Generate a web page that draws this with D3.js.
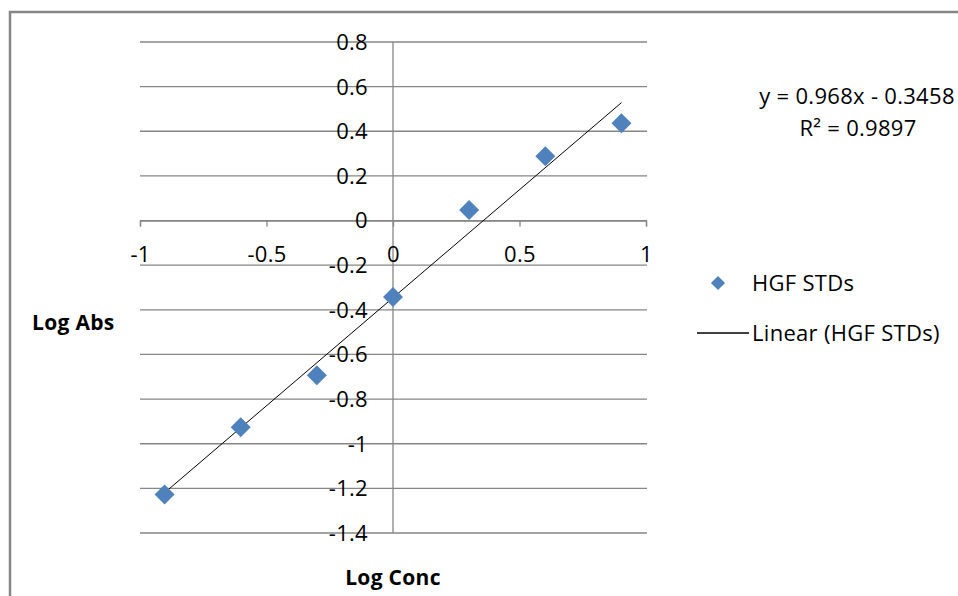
<!DOCTYPE html>
<html>
  <head>
    <script type="text/javascript" src="https://cdn.jsdelivr.net/npm/d3@7"></script>
    <style>
      body { margin: 0; background: #fff; }
      text { font-family: "Open Sans", Lato, sans-serif; fill: #000; letter-spacing: 0.3px; }
    </style>
  </head>
  <body>
    <script type="text/javascript">
      // data
      const logConc = [-0.903, -0.602, -0.301, 0, 0.301, 0.602, 0.903];
      const logAbs = [-1.227, -0.926, -0.693, -0.343, 0.047, 0.288, 0.436];
      const xTicks = [-1, -0.5, 0, 0.5, 1];
      const yTicks = [0.8, 0.6, 0.4, 0.2, 0, -0.2, -0.4, -0.6, -0.8, -1, -1.2, -1.4];
      const slope = 0.968;
      const intercept = -0.3458;
      const eqText = "y = 0.968x - 0.3458";
      const r2Text = "R² = 0.9897";
      const seriesName = "HGF STDs";

      const W = 958, H = 596;
      const blue = "#4f81bd";
      const grey = "#868686";
      const fs = 22;

      const svg = d3.select("body").append("svg")
        .attr("width", W)
        .attr("height", H);

      // outer chart border
      svg.append("rect")
        .attr("x", 10).attr("y", 12)
        .attr("width", 1000).attr("height", 700)
        .attr("fill", "none")
        .attr("stroke", grey)
        .attr("stroke-width", 2.5);

      const xScale = d3.scaleLinear().domain([-1, 1]).range([140, 646]);
      const yScale = d3.scaleLinear().domain([-1.4, 0.8]).range([533, 42]);

      // horizontal gridlines
      svg.append("g").selectAll("line")
        .data(yTicks)
        .enter()
        .append("line")
        .attr("x1", xScale(-1))
        .attr("x2", xScale(1) + 1)
        .attr("y1", d => yScale(d))
        .attr("y2", d => yScale(d))
        .attr("stroke", grey)
        .attr("stroke-width", 1.3);

      // vertical axis at x = 0
      svg.append("line")
        .attr("x1", xScale(0)).attr("x2", xScale(0))
        .attr("y1", yScale(0.8)).attr("y2", yScale(-1.4))
        .attr("stroke", grey)
        .attr("stroke-width", 1.3);

      // horizontal axis at y = 0, ticks going down
      const xAxis = d3.axisBottom(xScale)
        .tickValues(xTicks)
        .tickSize(6)
        .tickPadding(20)
        .tickFormat(d => d3.format("")(d).replace("−", "-"));
      const gx = svg.append("g")
        .attr("transform", "translate(0," + yScale(0) + ")")
        .call(xAxis);
      gx.select(".domain").attr("stroke", grey).attr("stroke-width", 1.3);
      gx.selectAll(".tick line").attr("stroke", grey).attr("stroke-width", 1.3);
      gx.selectAll(".tick text")
        .attr("font-size", fs)
        .attr("fill", "#000")
        .style("font-family", "'Open Sans', sans-serif");

      // y tick labels (right-aligned, centred on gridlines)
      svg.append("g").selectAll("text")
        .data(yTicks)
        .enter()
        .append("text")
        .attr("x", 368)
        .attr("y", d => yScale(d))
        .attr("dy", "0.36em")
        .attr("text-anchor", "end")
        .attr("font-size", fs)
        .text(d => d3.format("")(d).replace("−", "-"));

      // trend line over the data range
      const xExt = d3.extent(logConc);
      svg.append("line")
        .attr("x1", xScale(xExt[0]))
        .attr("y1", yScale(slope * xExt[0] + intercept))
        .attr("x2", xScale(xExt[1]))
        .attr("y2", yScale(slope * xExt[1] + intercept))
        .attr("stroke", "#000")
        .attr("stroke-width", 1);

      // diamond markers
      const diamond = d3.symbol().type(d3.symbolSquare).size(200);
      svg.append("g").selectAll("path")
        .data(logConc)
        .enter()
        .append("path")
        .attr("d", diamond)
        .attr("transform", (d, i) =>
          "translate(" + xScale(d) + "," + yScale(logAbs[i]) + ") rotate(45)")
        .attr("fill", blue);

      // axis titles
      svg.append("text")
        .attr("x", 32).attr("y", 322)
        .attr("dy", "0.36em")
        .attr("font-size", 21)
        .attr("font-weight", "bold")
        .text("Log Abs");
      svg.append("text")
        .attr("x", xScale(0)).attr("y", 577)
        .attr("dy", "0.36em")
        .attr("text-anchor", "middle")
        .attr("font-size", 21)
        .attr("font-weight", "bold")
        .text("Log Conc");

      // equation label
      svg.append("text")
        .attr("x", 857).attr("y", 96)
        .attr("dy", "0.36em")
        .attr("text-anchor", "middle")
        .attr("font-size", fs)
        .text(eqText);
      svg.append("text")
        .attr("x", 858).attr("y", 128)
        .attr("dy", "0.36em")
        .attr("text-anchor", "middle")
        .attr("font-size", fs)
        .text(r2Text);

      // legend
      svg.append("path")
        .attr("d", d3.symbol().type(d3.symbolSquare).size(100))
        .attr("transform", "translate(718,283) rotate(45)")
        .attr("fill", blue);
      svg.append("text")
        .attr("x", 752).attr("y", 283)
        .attr("dy", "0.36em")
        .attr("font-size", fs)
        .text(seriesName);
      svg.append("line")
        .attr("x1", 697).attr("x2", 749)
        .attr("y1", 333).attr("y2", 333)
        .attr("stroke", "#000")
        .attr("stroke-width", 1.3);
      svg.append("text")
        .attr("x", 752).attr("y", 333)
        .attr("dy", "0.36em")
        .attr("font-size", fs)
        .text("Linear (" + seriesName + ")");
    </script>
  </body>
</html>
